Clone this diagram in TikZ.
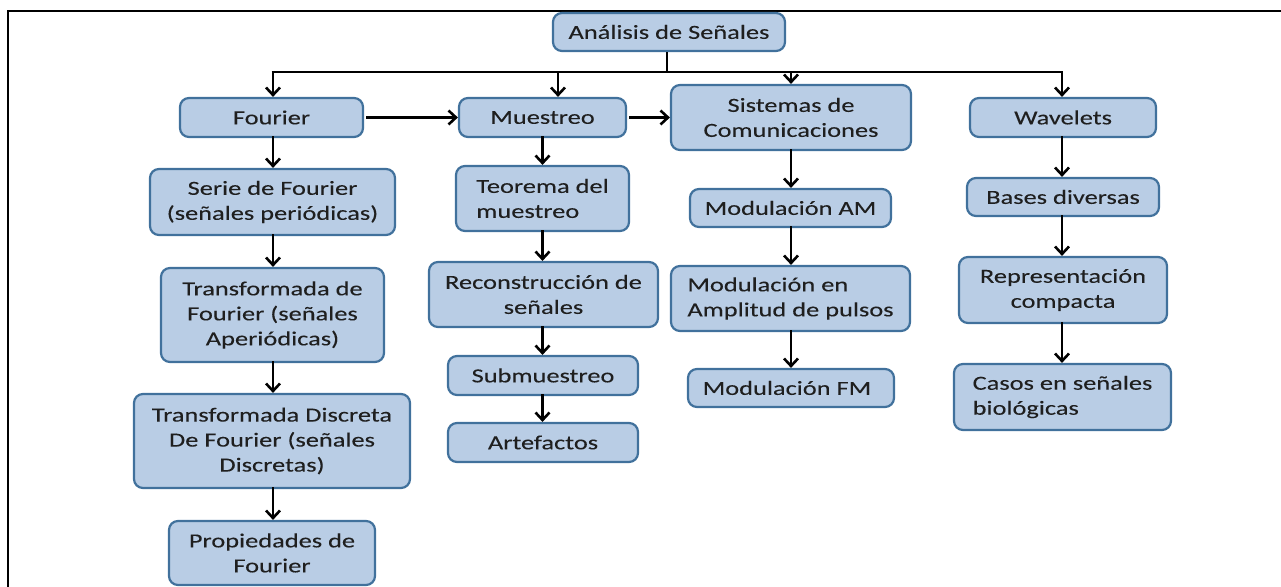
\documentclass[tikz,border=0pt]{standalone}
\usepackage{fontspec}
\setmainfont{Carlito}[FakeStretch=1.32,FakeBold=0.12]
\usetikzlibrary{arrows.meta}
\definecolor{boxfill}{HTML}{B9CDE5}
\definecolor{boxdraw}{HTML}{41719C}
\begin{document}
\begin{tikzpicture}[x=1pt,y=-1pt,
  box/.style={draw=boxdraw, fill=boxfill, line width=2.2pt, rounded corners=9pt,
    align=center, inner sep=0pt, font=\fontsize{20}{25}\selectfont, text=black!88},
  lbox/.style={box, align=left},
  conn/.style={line width=2.6pt, black},
  arr/.style={conn, -{Straight Barb[length=7.5pt,width=14pt,line width=2.6pt]}}]
\useasboundingbox (0,0) rectangle (1281,586);
% frame
\draw[line width=2.2pt] (8,590) -- (8,11) -- (1285,11);
% nodes
\node[box, minimum width=232, minimum height=38] (ana) at (669,32) {Análisis de Señales};
\node[box, minimum width=183, minimum height=39] (fou) at (271.5,117.5) {Fourier};
\node[box, minimum width=167, minimum height=39] (mue) at (542.5,117.5) {Muestreo};
\node[box, minimum width=240, minimum height=65] (sis) at (791,117.5) {Sistemas de\\Comunicaciones};
\node[box, minimum width=186, minimum height=39] (wav) at (1063,117.5) {Wavelets};
\node[box, minimum width=245, minimum height=66] (ser) at (272.5,202) {Serie de Fourier\\(señales periódicas)};
\node[box, minimum width=223, minimum height=94] (tra) at (272.5,315) {Transformada de\\Fourier (señales\\Aperiódicas)};
\node[box, minimum width=276, minimum height=94] (tdf) at (272,441) {Transformada Discreta\\De Fourier (señales\\Discretas)};
\node[box, minimum width=206, minimum height=64] (pro) at (272,553) {Propiedades de\\Fourier};
\node[lbox, minimum width=173, minimum height=65] (teo) at (542.5,198.5) {Teorema del\\muestreo};
\node[box, minimum width=229, minimum height=65] (rec) at (543.5,294.5) {Reconstrucción de\\señales};
\node[box, minimum width=190, minimum height=39] (sub) at (543,375.5) {Submuestreo};
\node[box, minimum width=190, minimum height=39] (art) at (543,442.5) {Artefactos};
\node[box, minimum width=201, minimum height=38] (mam) at (790.5,208) {Modulación AM};
\node[lbox, minimum width=239, minimum height=65] (mpu) at (790.5,298.5) {Modulación en\\Amplitud de pulsos};
\node[box, minimum width=206, minimum height=38] (mfm) at (791,388) {Modulación FM\hspace{8pt}};
\node[box, minimum width=192, minimum height=38] (bas) at (1063,197) {Bases diversas};
\node[box, minimum width=208, minimum height=66] (rep) at (1063,290) {Representación\\compacta};
\node[lbox, minimum width=217, minimum height=66] (cas) at (1062.5,397) {Casos en señales\\biológicas};
% bus
\coordinate (stem) at (667,72);
\coordinate (busL) at (273,72);
\coordinate (busM) at (558,72);
\coordinate (busS) at (791,72);
\coordinate (busR) at (1062,72);
\draw[conn] (ana.south -| stem) -- (stem);
\draw[conn] ([xshift=-1.3pt]busL) -- ([xshift=1.3pt]busR);
\draw[arr] (busL) -- (busL |- fou.north);
\draw[arr] (busM) -- (busM |- mue.north);
\draw[arr] (busS) -- (busS |- sis.north);
\draw[arr] (busR) -- (busR |- wav.north);
% horizontal
\draw[arr] ([xshift=2pt]fou.east) -- (mue.west);
\draw[arr] ([xshift=2pt]mue.east) -- (sis.west);
% column 1
\draw[arr] ([yshift=2pt]busL |- fou.south) -- (busL |- ser.north);
\draw[arr] ([yshift=2pt]busL |- ser.south) -- (busL |- tra.north);
\draw[arr] ([yshift=2pt]busL |- tra.south) -- (busL |- tdf.north);
\draw[arr] ([yshift=2pt]busL |- tdf.south) -- (busL |- pro.north);
% column 2
\draw[arr] ([yshift=2pt]mue.south) -- (mue.south |- teo.north);
\draw[arr] ([yshift=2pt]mue.south |- teo.south) -- (mue.south |- rec.north);
\draw[arr] ([yshift=2pt]mue.south |- rec.south) -- (mue.south |- sub.north);
\draw[arr] ([yshift=2pt]mue.south |- sub.south) -- (mue.south |- art.north);
% column 3
\draw[arr] ([yshift=2pt]sis.south) -- (sis.south |- mam.north);
\draw[arr] ([yshift=2pt]sis.south |- mam.south) -- (sis.south |- mpu.north);
\draw[arr] ([yshift=2pt]sis.south |- mpu.south) -- (sis.south |- mfm.north);
% column 4
\draw[arr] ([yshift=2pt]busR |- wav.south) -- (busR |- bas.north);
\draw[arr] ([yshift=2pt]busR |- bas.south) -- (busR |- rep.north);
\draw[arr] ([yshift=2pt]busR |- rep.south) -- (busR |- cas.north);
\end{tikzpicture}
\end{document}
